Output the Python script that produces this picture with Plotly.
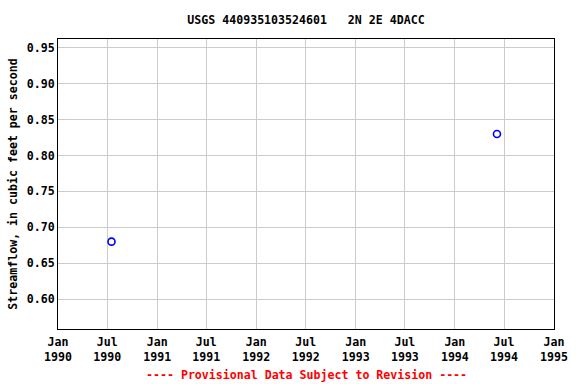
import plotly.graph_objects as go

dates = ["1990-07-17", "1994-06-05"]
flows = [0.68, 0.83]

tick_vals = ["1990-01-01", "1990-07-01", "1991-01-01", "1991-07-01", "1992-01-01",
             "1992-07-01", "1993-01-01", "1993-07-01", "1994-01-01", "1994-07-01", "1995-01-01"]
tick_text = ["Jan<br>1990", "Jul<br>1990", "Jan<br>1991", "Jul<br>1991", "Jan<br>1992",
             "Jul<br>1992", "Jan<br>1993", "Jul<br>1993", "Jan<br>1994", "Jul<br>1994", "Jan<br>1995"]
y_ticks = [0.60, 0.65, 0.70, 0.75, 0.80, 0.85, 0.90, 0.95]

font = "DejaVu Sans Mono"
fs = 11.6

fig = go.Figure()
fig.add_trace(go.Scatter(
    x=dates, y=flows, mode="markers",
    marker=dict(symbol="circle-open", size=7, color="#0000ff", line=dict(width=1.6, color="#0000ff")),
    showlegend=False,
))

M_L, M_R, M_T, M_B = 58, 22, 39, 55
plot_h = 384 - M_T - M_B

fig.update_layout(
    width=576, height=384,
    margin=dict(l=M_L, r=M_R, t=M_T, b=M_B, autoexpand=False),
    paper_bgcolor="white", plot_bgcolor="white",
    title=dict(text="<b>USGS 440935103524601   2N 2E 4DACC</b>", x=0.5, xref="paper", xanchor="center",
               y=1 - 20 / 384, yanchor="middle", font=dict(family=font, size=fs, color="black")),
    font=dict(family=font, size=fs, color="black"),
    xaxis=dict(
        type="date", range=["1990-01-01", "1995-01-01"],
        tickvals=tick_vals, ticktext=["<b>" + t.replace("<br>", "</b><br><b>") + "</b>" for t in tick_text],
        showgrid=True, gridcolor="#cccccc", gridwidth=1,
        showline=True, linecolor="black", linewidth=1, mirror=True,
        ticks="", tickfont=dict(family=font, size=fs, color="black"),
        ticklabelstandoff=2,
        zeroline=False, automargin=False,
    ),
    yaxis=dict(
        range=[0.5582, 0.9625],
        tickvals=y_ticks, ticktext=["<b>%.2f</b>" % v for v in y_ticks],
        showgrid=True, gridcolor="#cccccc", gridwidth=1,
        showline=True, linecolor="black", linewidth=1, mirror=True,
        ticks="", tickfont=dict(family=font, size=fs, color="black"),
        title=dict(text="<b>Streamflow, in cubic feet per second</b>", font=dict(family=font, size=fs), standoff=6),
        zeroline=False, automargin=False,
    ),
    annotations=[dict(
        text="<b>---- Provisional Data Subject to Revision ----</b>",
        x=0.5, xref="paper", y=-(M_B - 9) / plot_h, yref="paper", yanchor="middle",
        showarrow=False, font=dict(family=font, size=fs, color="red"),
    )],
)

fig.write_html("out.html")
